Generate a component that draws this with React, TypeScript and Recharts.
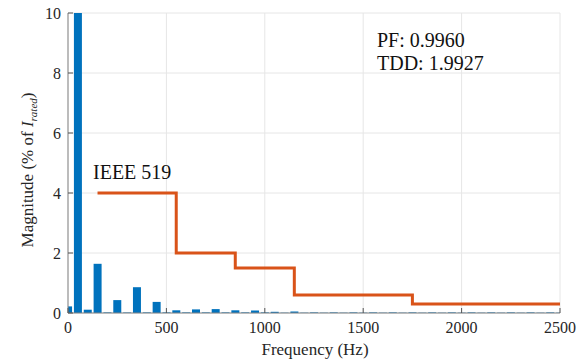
import React from 'react';
import { ComposedChart, Bar, Line, XAxis, YAxis, CartesianGrid, Customized } from 'recharts';

const frequencies = [
  0, 50, 100, 150, 200, 250, 300, 350, 400, 450, 500, 550, 600, 650, 700, 750, 800, 850, 900, 950,
  1000, 1050, 1100, 1150, 1200, 1250, 1300, 1350, 1400, 1450, 1500, 1550, 1600, 1650, 1700, 1750,
  1800, 1850, 1900, 1950, 2000, 2050, 2100, 2150, 2200, 2250, 2300, 2350, 2400, 2450, 2500,
];
const magnitudes = [
  0.22, 100, 0.11, 1.64, 0.02, 0.43, 0.02, 0.86, 0.02, 0.37, 0.02, 0.09, 0.02, 0.12, 0.02, 0.13, 0.02, 0.09, 0.02, 0.08,
  0.02, 0.04, 0.01, 0.05, 0.01, 0.02, 0.01, 0.02, 0.01, 0.02, 0.01, 0.02, 0.01, 0.02, 0.01, 0.02,
  0.01, 0.02, 0.01, 0.02, 0.01, 0.02, 0.01, 0.02, 0.01, 0.02, 0.01, 0.02, 0.01, 0.02, 0.01,
];
const limitFreqs = [150, 550, 850, 1150, 1750, 2500];
const limitValues = [4, 2, 1.5, 0.6, 0.3, 0.3];
const xTicks = [0, 500, 1000, 1500, 2000, 2500];
const yTicks = [0, 2, 4, 6, 8, 10];

const data = frequencies.map((f, i) => {
  const li = limitFreqs.indexOf(f);
  return { f, mag: magnitudes[i], limit: li >= 0 ? limitValues[li] : null };
});

const FONT = 'Liberation Serif';
const AXIS = '#858585';
const TICK = '#555';
const TXT = '#262626';

const BottomTick = (p: any) => (
  <g>
    <line x1={p.x} x2={p.x} y1={p.y} y2={p.y - 5} stroke={TICK} strokeWidth={1} />
    <text x={p.x} y={p.y + 20} textAnchor="middle" fontFamily={FONT} fontSize={16} fill={TXT}>
      {p.payload.value}
    </text>
  </g>
);
const TopTick = (p: any) => (
  <line x1={p.x} x2={p.x} y1={p.y} y2={p.y + 5} stroke={TICK} strokeWidth={1} />
);
const LeftTick = (p: any) => (
  <g>
    <line x1={p.x} x2={p.x + 5} y1={p.y} y2={p.y} stroke={TICK} strokeWidth={1} />
    <text x={p.x - 7} y={p.y} dy="0.35em" textAnchor="end" fontFamily={FONT} fontSize={16} fill={TXT}>
      {p.payload.value}
    </text>
  </g>
);
const RightTick = (p: any) => (
  <line x1={p.x} x2={p.x - 5} y1={p.y} y2={p.y} stroke={TICK} strokeWidth={1} />
);

const Annotations = () => (
  <g fill="#111">
    <text x={93} y={179} fontSize={20} fontFamily={FONT}>IEEE 519</text>
    <text x={377} y={47} fontSize={20} fontFamily={FONT}>PF: 0.9960</text>
    <text x={377} y={70} fontSize={20} fontFamily={FONT}>TDD: 1.9927</text>
    <text x={315} y={355} fontSize={17} textAnchor="middle" fill={TXT} fontFamily={FONT}>Frequency (Hz)</text>
    <text x={33} y={170} fontSize={17} textAnchor="middle" fill={TXT} fontFamily={FONT} transform="rotate(-90, 33, 170)">
      <tspan>Magnitude (% of </tspan>
      <tspan fontStyle="italic">I</tspan>
      <tspan fontStyle="italic" fontSize={11} dy={4}>rated</tspan>
      <tspan dy={-4}>)</tspan>
    </text>
  </g>
);

export default function App() {
  return (
    <div style={{ position: 'absolute', left: 0, top: 0, width: 584, height: 363, background: '#fff' }}>
      <ComposedChart
        width={584}
        height={363}
        data={data}
        margin={{ top: 13, right: 24, bottom: 0, left: 0 }}
      >
        <CartesianGrid stroke="#e6e6e6" strokeWidth={1} />
        <XAxis
          dataKey="f"
          type="number"
          domain={[0, 2500]}
          ticks={xTicks}
          allowDataOverflow
          height={50}
          tickSize={0}
          tickMargin={0}
          tickLine={false}
          axisLine={{ stroke: AXIS }}
          tick={<BottomTick />}
          interval={0}
        />
        <XAxis
          xAxisId="top"
          orientation="top"
          dataKey="f"
          type="number"
          domain={[0, 2500]}
          ticks={xTicks}
          height={0}
          tickSize={0}
          tickMargin={0}
          tickLine={false}
          axisLine={{ stroke: AXIS }}
          tick={<TopTick />}
          interval={0}
        />
        <YAxis
          type="number"
          domain={[0, 10]}
          ticks={yTicks}
          allowDataOverflow
          width={68}
          tickSize={0}
          tickMargin={0}
          tickLine={false}
          axisLine={{ stroke: AXIS }}
          tick={<LeftTick />}
          interval={0}
        />
        <YAxis
          yAxisId="right"
          orientation="right"
          type="number"
          domain={[0, 10]}
          ticks={yTicks}
          width={0}
          tickSize={0}
          tickMargin={0}
          tickLine={false}
          axisLine={{ stroke: AXIS }}
          tick={<RightTick />}
          interval={0}
        />
        <Bar dataKey="mag" fill="#0072BD" barSize={8} isAnimationActive={false} />
        <Line
          dataKey="limit"
          type="stepAfter"
          stroke="#D95319"
          strokeWidth={3}
          dot={false}
          connectNulls
          isAnimationActive={false}
        />
        <Customized component={Annotations} />
      </ComposedChart>
    </div>
  );
}
